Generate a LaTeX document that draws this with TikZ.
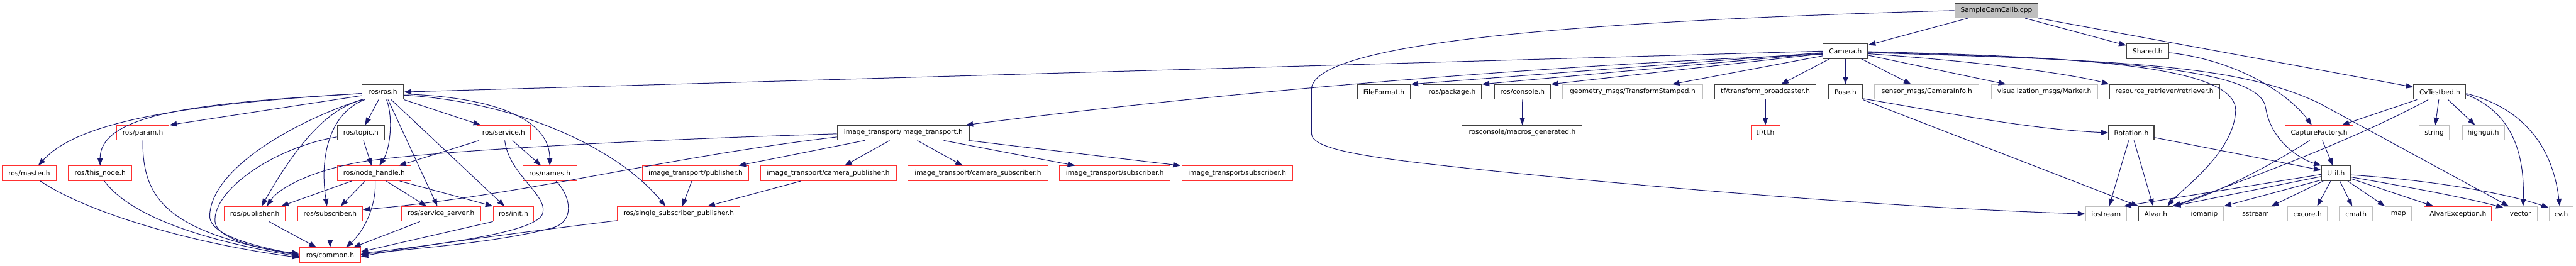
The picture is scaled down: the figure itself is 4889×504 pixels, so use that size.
\documentclass[tikz,border=0pt]{standalone}
\usepackage{fontspec}
\newfontfamily\dvs{DejaVu Sans}
\usetikzlibrary{arrows.meta,calc}
\definecolor{edgec}{HTML}{191970}
\definecolor{docb}{HTML}{404040}
\definecolor{redb}{HTML}{FF3030}
\definecolor{undb}{HTML}{BFBFBF}
\begin{document}
\begin{tikzpicture}[x=1pt,y=-1pt,
  base/.style={rectangle,inner sep=0pt,minimum height=28pt,line width=1.3pt,font=\dvs\fontsize{12.7}{15}\selectfont},
  nd/.style={base,draw=docb},
  nr/.style={base,draw=redb},
  nu/.style={base,draw=undb},
  nroot/.style={base,draw=docb,fill=undb},
  W/.style={minimum width=#1pt},
  edg/.style={draw=edgec,line width=1.2pt,-{Triangle[length=14pt,width=10pt]}}]
\useasboundingbox (0,0) rectangle (4889,504);
% row 0/1
\node[nroot,W=158] (root) at (3789,20) {SampleCamCalib.cpp};
\node[nd,W=85] (camera) at (3502.5,97) {Camera.h};
\node[nd,W=80] (shared) at (4076,97) {Shared.h};
% row 2
\node[nd,W=79] (ros) at (726.5,174.5) {ros/ros.h};
\node[nd,W=101] (fileformat) at (2626.5,174.5) {FileFormat.h};
\node[nd,W=112] (package) at (2756,174.5) {ros/package.h};
\node[nd,W=107] (console) at (2889.5,174.5) {ros/console.h};
\node[nu,W=265] (geom) at (3098.5,174.5) {geometry\_msgs/TransformStamped.h};
\node[nd,W=193] (tfb) at (3350.5,174.5) {tf/transform\_broadcaster.h};
\node[nd,W=65] (pose) at (3502.5,174.5) {Pose.h};
\node[nu,W=198] (sensor) at (3657,174.5) {sensor\_msgs/CameraInfo.h};
\node[nu,W=202] (vis) at (3880,174.5) {visualization\_msgs/Marker.h};
\node[nd,W=209] (resret) at (4108,174.5) {resource\_retriever/retriever.h};
\node[nd,W=99] (cvtest) at (4630.5,174.5) {CvTestbed.h};
% row 3
\node[nr,W=100] (param) at (271,252) {ros/param.h};
\node[nd,W=90] (topic) at (685,252) {ros/topic.h};
\node[nr,W=102] (service) at (956,252) {ros/service.h};
\node[nd,W=251] (itrans) at (1714.5,252) {image\_transport/image\_transport.h};
\node[nd,W=228] (macros) at (2889,252) {rosconsole/macros\_generated.h};
\node[nr,W=55] (tftf) at (3350.5,252) {tf/tf.h};
\node[nd,W=86] (rotation) at (4045,252) {Rotation.h};
\node[nr,W=129] (capture) at (4401.5,252) {CaptureFactory.h};
\node[nu,W=58] (string) at (4620,252) {string};
\node[nu,W=80] (highgui) at (4713,252) {highgui.h};
% row 4
\node[nr,W=103] (master) at (55.5,329) {ros/master.h};
\node[nr,W=120] (thisnode) at (190,329) {ros/this\_node.h};
\node[nr,W=140] (nodeh) at (710,329) {ros/node\_handle.h};
\node[nr,W=103] (names) at (1043.5,329) {ros/names.h};
\node[nr,W=202] (itpub) at (1320,329) {image\_transport/publisher.h};
\node[nr,W=258] (campub) at (1572,329) {image\_transport/camera\_publisher.h};
\node[nr,W=266] (camsub) at (1856,329) {image\_transport/camera\_subscriber.h};
\node[nr,W=210] (itsub1) at (2116,329) {image\_transport/subscriber.h};
\node[nr,W=210] (itsub2) at (2348,329) {image\_transport/subscriber.h};
\node[nd,W=55] (util) at (4433.5,329) {Util.h};
% row 5
\node[nr,W=115] (pub) at (483.5,406) {ros/publisher.h};
\node[nr,W=123] (sub) at (626.5,406) {ros/subscriber.h};
\node[nr,W=150] (sserv) at (837,406) {ros/service\_server.h};
\node[nr,W=77] (init) at (974.5,406) {ros/init.h};
\node[nr,W=232] (ssp) at (1288,406) {ros/single\_subscriber\_publisher.h};
\node[nu,W=78] (iostream) at (3997,406) {iostream};
\node[nd,W=65] (alvar) at (4091.5,406) {Alvar.h};
\node[nu,W=73] (iomanip) at (4183.5,406) {iomanip};
\node[nu,W=74] (sstream) at (4281,406) {sstream};
\node[nu,W=75] (cxcore) at (4379.5,406) {cxcore.h};
\node[nu,W=63] (cmath) at (4471.5,406) {cmath};
\node[nu,W=50] (map) at (4552,406) {map};
\node[nr,W=128] (alvarex) at (4665,406) {AlvarException.h};
\node[nu,W=63] (vector) at (4783.5,406) {vector};
\node[nu,W=46] (cvh) at (4861,406) {cv.h};
% row 6
\node[nr,W=115] (common) at (626.5,484) {ros/common.h};

% ---- edges from SampleCamCalib.cpp
\draw[edg] (root) -- (camera);
\draw[edg] (root) -- (shared);
\draw[edg] (root) -- (cvtest);
\draw[edg] (root.west) .. controls (3000,40) and (2489,80) .. (2489,170) -- (2489,253)
  .. controls (2489,285) and (2600,300) .. (2820,323) .. controls (3300,372) and (3700,398) .. (iostream.west);
% ---- Camera.h
\draw[edg] (camera.west) -- (ros.east);
\draw[edg] ($(camera.west)+(0,6)$) .. controls (2800,130) and (2200,190) .. ($(itrans.north east)+(-8,0)$);
\draw[edg] ($(camera.west)+(0,3)$) -- (fileformat.north east);
\draw[edg] ($(camera.west)+(0,4)$) -- (package.north east);
\draw[edg] ($(camera.west)+(0,5)$) -- (console.north east);
\draw[edg] ($(camera.west)+(0,9)$) -- ($(geom.north)+(75,0)$);
\draw[edg] ($(camera.south west)+(13,0)$) -- ($(tfb.north)+(30,0)$);
\draw[edg] (camera) -- (pose);
\draw[edg] ($(camera.south east)+(-13,0)$) -- ($(sensor.north)+(-30,0)$);
\draw[edg] ($(camera.east)+(0,8)$) -- ($(vis.north)+(-73,0)$);
\draw[edg] ($(camera.east)+(0,5)$) .. controls (3800,120) and (3950,145) .. (resret.north west);
\draw[edg] ($(camera.east)+(0,1)$) .. controls (3950,108) and (4245,125) .. (4243,210)
  .. controls (4240,290) and (4140,360) .. ($(alvar.north)+(22,0)$);
\draw[edg] ($(camera.east)+(0,2)$) .. controls (4050,112) and (4292,135) .. (4300,205)
  .. controls (4310,265) and (4360,300) .. (util.north west);
\draw[edg] ($(camera.east)+(0,3)$) .. controls (4050,115) and (4250,125) .. (4400,195) -- ($(vector.north west)+(10,0)$);
% ---- Shared.h, CvTestbed.h, CaptureFactory.h
\draw[edg] ($(shared.east)+(0,3)$) .. controls (4250,115) and (4345,180) .. ($(capture.north)+(-14,0)$);
\draw[edg] ($(cvtest.south west)+(7,0)$) -- ($(capture.north east)+(-22,0)$);
\draw[edg] ($(cvtest.south)+(-22,0)$) .. controls (4460,270) and (4250,345) .. (alvar.north east);
\draw[edg] (cvtest) -- (string);
\draw[edg] (cvtest) -- (highgui);
\draw[edg] ($(cvtest.east)+(0,5)$) .. controls (4760,210) and (4792,280) .. ($(vector.north)+(5,0)$);
\draw[edg] ($(cvtest.east)+(0,3)$) .. controls (4790,205) and (4845,280) .. ($(cvh.north)+(-3,0)$);
\draw[edg] ($(capture.south)+(-18,0)$) .. controls (4300,320) and (4200,370) .. ($(alvar.north east)+(-2,0)$);
\draw[edg] (capture) -- (util);
% ---- Pose.h, Rotation.h
\draw[edg] ($(pose.south east)+(0,-2)$) .. controls (3700,215) and (3850,245) .. (rotation.west);
\draw[edg] (pose.south east) -- (alvar.north west);
\draw[edg] ($(rotation.south)+(-5,0)$) -- ($(iostream.north)+(6,0)$);
\draw[edg] ($(rotation.south)+(5,0)$) -- ($(alvar.north)+(-5,0)$);
\draw[edg] ($(rotation.east)+(0,9)$) -- ($(util.west)+(0,-6)$);
% ---- console, tf
\draw[edg] (console) -- (macros);
\draw[edg] (tfb) -- (tftf);
% ---- Util.h
\draw[edg] ($(util.west)+(0,2)$) -- ($(iostream.north east)+(-6,0)$);
\draw[edg] ($(util.west)+(0,6)$) -- (alvar.north east);
\draw[edg] ($(util.south west)+(0,-2)$) -- (iomanip.north east);
\draw[edg] ($(util.south west)+(4,0)$) -- ($(sstream.north east)+(-8,0)$);
\draw[edg] ($(util.south)+(-10,0)$) -- ($(cxcore.north east)+(-20,0)$);
\draw[edg] (util) -- (cmath);
\draw[edg] ($(util.south east)+(-6,0)$) -- (map.north west);
\draw[edg] ($(util.east)+(0,10)$) -- ($(alvarex.north west)+(18,0)$);
\draw[edg] ($(util.east)+(0,7)$) .. controls (4600,360) and (4690,378) .. ($(vector.north west)+(0,3)$);
\draw[edg] ($(util.east)+(0,3)$) .. controls (4620,342) and (4760,368) .. ($(cvh.north west)+(0,3)$);
% ---- ros/ros.h
\draw[edg] ($(ros.west)+(0,3)$) .. controls (300,200) and (140,240) .. ($(master.north)+(17,0)$);
\draw[edg] ($(ros.west)+(0,3)$) .. controls (380,195) and (190,215) .. (thisnode.north);
\draw[edg] ($(ros.west)+(0,7)$) -- (param.north east);
\draw[edg] (ros) -- (topic);
\draw[edg] ($(ros.south)+(7,0)$) .. controls (746,220) and (742,280) .. ($(nodeh.north)+(10,0)$);
\draw[edg] ($(ros.south west)+(3,0)$) .. controls (620,205) and (560,280) .. ($(pub.north)+(13,0)$);
\draw[edg] ($(ros.south west)+(6,0)$) .. controls (630,212) and (605,290) .. ($(sub.north)+(-6,0)$);
\draw[edg] (ros.south west) .. controls (560,230) and (400,320) .. (398,410)
  .. controls (398,450) and (500,470) .. (common.west);
\draw[edg] ($(ros.south)+(10,0)$) -- ($(sserv.north)+(-7,0)$);
\draw[edg] ($(ros.south)+(16,0)$) -- ($(init.north)+(-17,0)$);
\draw[edg] (ros.south east) -- ($(service.north west)+(8,0)$);
\draw[edg] ($(ros.east)+(0,4)$) .. controls (950,185) and (1043,230) .. (names.north);
\draw[edg] ($(ros.east)+(0,6)$) .. controls (1000,195) and (1180,290) .. ($(ssp.north)+(-25,0)$);
% ---- ros/topic.h
\draw[edg] ($(topic.west)+(0,8)$) .. controls (520,280) and (405,360) .. (408,420)
  .. controls (410,455) and (500,474) .. ($(common.west)+(0,-3)$);
\draw[edg] (topic) -- (nodeh);
% ---- image_transport.h
\draw[edg] ($(itrans.west)+(0,2)$) .. controls (1200,266) and (850,285) .. (700,305)
  .. controls (600,320) and (530,355) .. ($(pub.north)+(23,0)$);
\draw[edg] ($(itrans.west)+(0,8)$) .. controls (1250,300) and (1000,370) .. ($(sub.east)+(0,-8)$);
\draw[edg] (itrans) -- ($(itpub.north east)+(-20,0)$);
\draw[edg] (itrans) -- ($(campub.north)+(31,0)$);
\draw[edg] (itrans) -- ($(camsub.north)+(-29,0)$);
\draw[edg] (itrans) -- ($(itsub1.north west)+(30,0)$);
\draw[edg] (itrans) -- ($(itsub2.north west)+(-2,0)$);
\draw[edg] ($(campub.south)+(-52,0)$) -- ($(ssp.north)+(55,0)$);
\draw[edg] ($(itpub.south)+(-7,0)$) -- ($(ssp.north)+(7,0)$);
% ---- ros/service.h, names, init, ssp
\draw[edg] ($(service.south west)+(5,0)$) -- ($(nodeh.north)+(47,0)$);
\draw[edg] (service) -- (names);
\draw[edg] ($(service.south)+(2,0)$) .. controls (965,330) and (1040,370) .. (1030,405)
  .. controls (1020,440) and (850,462) .. ($(common.east)+(0,-3)$);
\draw[edg] ($(names.south)+(12,0)$) .. controls (1085,375) and (1090,420) .. (1050,432)
  .. controls (950,460) and (780,472) .. ($(common.east)+(0,-1)$);
\draw[edg] (init.south west) -- ($(common.east)+(0,-6)$);
\draw[edg] ($(ssp.south west)+(0,-2)$) .. controls (1000,440) and (800,465) .. ($(common.east)+(0,3)$);
\draw[edg] ($(sserv.south)+(-40,0)$) -- ($(common.north east)+(-14,0)$);
% ---- node_handle, publisher, subscriber
\draw[edg] ($(nodeh.south)+(2,0)$) .. controls (715,390) and (690,440) .. ($(common.north)+(30,0)$);
\draw[edg] ($(nodeh.south west)+(28,0)$) -- ($(pub.north east)+(-8,0)$);
\draw[edg] ($(nodeh.south)+(-17,0)$) -- ($(sub.north)+(20,0)$);
\draw[edg] ($(nodeh.south)+(23,0)$) -- ($(sserv.north west)+(48,0)$);
\draw[edg] ($(nodeh.south east)+(-22,0)$) -- (init.north west);
\draw[edg] (sub) -- (common);
\draw[edg] ($(pub.south)+(27,0)$) -- ($(common.north)+(-26,0)$);
% ---- master, this_node, param
\draw[edg] ($(master.south)+(21,0)$) .. controls (160,400) and (350,460) .. ($(common.west)+(0,5)$);
\draw[edg] ($(thisnode.south)+(8,0)$) .. controls (240,400) and (350,450) .. ($(common.west)+(0,3)$);
\draw[edg] (param.south) .. controls (270,380) and (320,440) .. ($(common.west)+(0,1)$);
\end{tikzpicture}
\end{document}
